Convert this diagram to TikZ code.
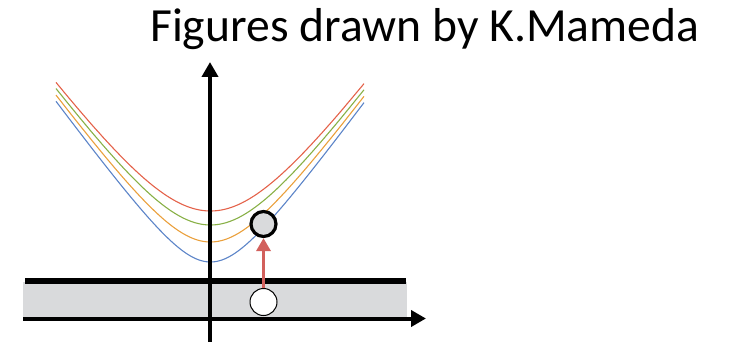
\documentclass[tikz,border=0pt]{standalone}
\usepackage{fontspec}
\setmainfont{Carlito}
\usetikzlibrary{arrows.meta}
\definecolor{bandgray}{RGB}{217,218,220}
\definecolor{cblue}{RGB}{92,132,200}
\definecolor{corange}{RGB}{234,160,60}
\definecolor{cgreen}{RGB}{136,176,70}
\definecolor{cred}{RGB}{228,98,74}
\definecolor{arrowred}{RGB}{210,96,92}
\begin{document}
\begin{tikzpicture}[x=1pt,y=-1pt,
  axis/.style={line width=4pt,-{Triangle[length=15pt,width=16pt]}},
  curve/.style={line width=1.1pt},
  state/.style={circle,draw=black,inner sep=0pt,minimum size=27pt}]
\useasboundingbox (0,0) rectangle (733,342);
\fill[bandgray] (23,282) rectangle (407,317);
\coordinate (ls) at (25,281);
\coordinate (le) at (406,281);
\draw[line width=6pt] (ls) -- (le);
\draw[curve,cblue] plot[domain=56:364,samples=120,smooth] (\x,{322-10*veclen(6.0,0.1375*(\x-210.5))});
\draw[curve,corange] plot[domain=56:364,samples=120,smooth] (\x,{322-10*veclen(8.0,0.1375*(\x-210.5))});
\draw[curve,cgreen] plot[domain=56:364,samples=120,smooth] (\x,{322-10*veclen(9.7,0.1375*(\x-210.5))});
\draw[curve,cred] plot[domain=56:364,samples=120,smooth] (\x,{322-10*veclen(11.1,0.1375*(\x-210.5))});
\coordinate (xs) at (23,318.5);
\coordinate (xe) at (426,318.5);
\draw[axis] (xs) -- (xe);
\coordinate (ys) at (210,342);
\coordinate (ye) at (210,62);
\draw[axis] (ys) -- (ye);
\node[state,fill=bandgray,line width=3.2pt,minimum size=25pt] (e1) at (263.5,224) {};
\node[state,fill=white,line width=1pt] (g0) at (263.5,302) {};
\draw[arrowred,line width=3.5pt,-{Triangle[length=13pt,width=14pt]}] (g0) -- (e1);
\node[anchor=base west,inner sep=0pt,font=\fontsize{47.6}{52}\selectfont] (title) at (150,42) {Figures drawn by K.Mameda};
\end{tikzpicture}
\end{document}
